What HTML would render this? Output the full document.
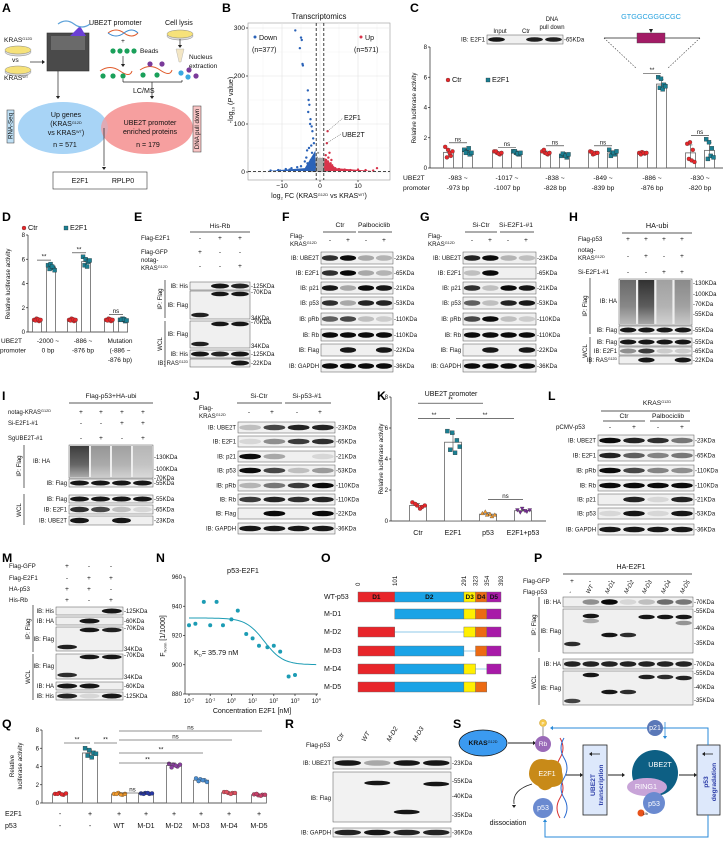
<!DOCTYPE html>
<html><head><meta charset="utf-8">
<style>
html,body{margin:0;padding:0;background:#fff;}
svg{display:block;font-family:"Liberation Sans",sans-serif;}
</style></head>
<body>
<svg id="fig" width="726" height="842" viewBox="0 0 726 842" xmlns="http://www.w3.org/2000/svg"></svg>
<script>
// ---------- chart data ----------
const cGroups=['-983 ~|-973 bp','-1017 ~|-1007 bp','-838 ~|-828 bp','-849 ~|-839 bp','-886 ~|-876 bp','-830 ~|-820 bp'];
const cCtrDots=[[1.4,1.2,0.8,0.7,1.0,1.1],[1.1,1.0,0.9,1.1,0.95,1.0],[1.1,1.0,0.9,1.2,0.95,1.0],[1.1,0.9,1.0,1.05,0.95,1.0],[1.0,1.05,0.95,0.9,1.0,1.0],[1.6,1.7,1.2,0.6,0.5,0.4]];
const cE2f1Dots=[[1.2,1.1,0.9,1.0,1.3,1.0],[1.1,1.0,0.9,1.1,0.95,1.0],[0.8,0.9,0.7,0.95,0.8,0.9],[1.2,1.0,0.9,0.8,1.0,1.1],[6.0,5.9,5.5,5.3,5.2,5.4],[1.9,1.7,1.3,0.6,0.8,0.7]];
const cSig=['ns','ns','ns','ns','**','ns'];
const lucTicks=[0,2,4,6,8];
const dGroups=['-2000 ~|0 bp','-886 ~|-876 bp','Mutation|(-886 ~|-876 bp)'];
const dCtrDots=[[1.0,1.1,0.9,0.95,1.05,1.0],[1.0,1.1,0.9,0.95,1.05,1.0],[1.0,1.1,0.9,0.95,1.05,1.0]];
const dE2f1Dots=[[5.5,5.6,5.3,5.2,5.4,5.1],[6.2,6.0,5.8,5.5,5.4,5.9],[1.0,1.1,0.9,1.0,1.05,0.95]];
const dSig=['**','**','ns'];
const kCats=['Ctr','E2F1','p53','E2F1+p53'];
const kDots=[[1.2,1.0,0.9,1.1,0.8,1.0],[5.8,5.7,5.2,4.6,4.4,4.8],[0.5,0.4,0.3,0.6,0.45,0.4],[0.7,0.8,0.6,0.55,0.65,0.7]];
const qE2f1=['-','+','+','+','+','+','+','+'];
const qP53=['-','-','WT','M-D1','M-D2','M-D3','M-D4','M-D5'];
const qDots=[[1.0,1.1,0.9,1.0,0.95,1.05],[6.0,5.8,5.5,5.2,5.0,5.4],[1.0,1.1,0.9,1.0,0.95,1.0],[1.05,1.1,1.0,1.0,1.1,1.05],[4.3,4.2,4.0,3.9,4.1,4.2],[2.7,2.6,2.5,2.4,2.5,2.3],[1.2,1.1,1.1,1.2,1.0,1.1],[0.95,0.85,0.9,1.0,0.8,0.9]];
const nConc=[0.01,0.02,0.05,0.1,0.2,0.4,1,2,5,10,20,50,100,200,500,1000];
const nFnorm=[927,928,943,927,943,927,931,937,921,918,913,912,913,909,892,893];
const nTicks=[880,900,920,940,960];
const nFitTop=932, nFitBottom=900, nKd=35.79;
const volDownX=[-6.5,-5.0,-4.8,-5.3,-4.6,-4.5,-3.2,-3.0,-2.8,-3.1,-2.5,-2.2,-2.6,-2.0,-1.8,-1.6,-2.3,-2.9,-3.4,-2.1,-1.5,-1.9,-2.4,-1.7,-1.4,-3.6,-4.0,-5.0,-6.0,-7.5,-9.0,-11.0,-13.0,-8.0,-10.5,-2.7,-1.3,-1.6,-2.0,-3.3];
const volDownY=[295,280,275,258,225,222,170,150,140,125,110,95,100,85,70,60,55,50,45,40,35,30,25,20,15,30,22,12,10,8,6,4,3,5,3,6,10,5,4,18];
const volUpX=[2.0,1.8,2.5,1.5,2.2,3.0,1.4,1.7,2.6,3.5,4.0,5.0,6.5,8.0,10.0,12.0,14.0,15.0,1.3,2.8,1.6,2.1,3.2];
const volUpY=[85,60,40,35,30,25,20,15,12,10,8,6,5,4,5,4,3,8,10,18,25,22,14];
const volNsX=[-1.0,-0.6,-0.3,0,0.3,0.6,0.9,-0.8,0.5,-0.2,0.2,-0.5,0.7];
const volNsY=[20,15,10,5,8,12,6,30,22,3,2,40,28];
const volTicksX=[-10,0,10];
const volTicksY=[0,100,200,300];

// ---------- helpers ----------
const NS='http://www.w3.org/2000/svg';
const svg=document.getElementById('fig');
function el(tag,a,name,parent){
  const e=document.createElementNS(NS,tag);
  for(const k in a) e.setAttribute(k,a[k]);
  
  
  (parent||svg).appendChild(e);
  return e;
}
function T(x,y,s,name,o){
  o=o||{};
  const a={x:x,y:y,'font-size':((o.fs||6)*1.12).toFixed(2),'text-anchor':o.a||'start',fill:o.fill||'#111','font-weight':o.fw||'normal','font-family':'Liberation Sans, sans-serif'};
  if(o.tr) a.transform=o.tr;
  if(o.fst) a['font-style']=o.fst;
  const e=el('text',a,name,o.p);
  if(o.html) e.innerHTML=s; else e.textContent=s;
  return e;
}
function L(x1,y1,x2,y2,name,st,sw,dash){
  const a={x1:x1,y1:y1,x2:x2,y2:y2,stroke:st||'#222','stroke-width':sw||0.7};
  if(dash) a['stroke-dasharray']=dash;
  return el('line',a,name);
}
function R(x,y,w,h,name,fill,st,sw){
  return el('rect',{x:x,y:y,width:w,height:h,fill:fill||'none',stroke:st||'none','stroke-width':sw||0.6},name);
}
function P(d,name,fill,st,sw){return el('path',{d:d,fill:fill||'none',stroke:st||'none','stroke-width':sw||0.8},name);}
function arrowHead(x,y,dir,name,col){
  col=col||'#222';const s=3;let d;
  if(dir==='r') d=`M${x},${y} L${x-s},${y-s*0.7} L${x-s},${y+s*0.7}Z`;
  if(dir==='l') d=`M${x},${y} L${x+s},${y-s*0.7} L${x+s},${y+s*0.7}Z`;
  if(dir==='d') d=`M${x},${y} L${x-s*0.7},${y-s} L${x+s*0.7},${y-s}Z`;
  if(dir==='u') d=`M${x},${y} L${x-s*0.7},${y+s} L${x+s*0.7},${y+s}Z`;
  return P(d,name,col);
}
function panel(ch,x,y){T(x,y,ch,'panel-label-'+ch.toLowerCase(),{fs:11,fw:'bold',fill:'#000'});}
const KR='KRAS<tspan font-size="3.8" dy="-2">G12D</tspan>';
function blot(x,y,w,h,bands,lab,kda,name,opt){
  opt=opt||{};
  R(x,y,w,h,name,opt.bg||'#f0f0f0','#555',0.5);
  const n=bands.length,lw=w/n;
  bands.forEach((v,i)=>{
    if(v>0){
      const b=el('ellipse',{cx:x+lw*(i+0.5),cy:y+h*(opt.yf||0.5),rx:lw*0.45,ry:Math.min(h*0.32,2.8),fill:'#0a0a0a','fill-opacity':Math.min(1,v*1.05)},'band');
    }
  });
  if(lab) T(x-2,y+h/2+2,lab,name+'-label',{fs:5.3,a:'end',html:true});
  if(kda) T(x+w+1,y+h/2+2,'-'+kda,name+'-kda',{fs:5.3});
}
function multiBand(x,y,w,n,list,name){
  const lw=w/n;
  list.forEach(b=>{
    el('ellipse',{cx:x+lw*(b[0]+0.5),cy:y+b[1],rx:lw*0.44,ry:2.3,fill:'#0a0a0a','fill-opacity':b[2]},name);
  });
}
function signs(xs,y,arr,name){arr.forEach((s,i)=>T(xs[i],y,s,name,{fs:6,a:'middle'}));}
function vlabel(x,yc,s,name){T(x,yc,s,name,{fs:5.5,a:'middle',tr:`rotate(-90 ${x} ${yc})`});}
function mean(a){return a.reduce((s,v)=>s+v,0)/a.length;}
function sd(a){const m=mean(a);return Math.sqrt(a.reduce((s,v)=>s+(v-m)*(v-m),0)/a.length);}
function marker(shape,x,y,col,name,r){
  r=r||2;
  if(shape==='c') return el('circle',{cx:x,cy:y,r:r,fill:col,stroke:'#333','stroke-width':0.3},name);
  if(shape==='s') return el('rect',{x:x-r,y:y-r,width:2*r,height:2*r,fill:col,stroke:'#222','stroke-width':0.3},name);
  if(shape==='t') return el('path',{d:`M${x},${y-r} L${x+r},${y+r*0.8} L${x-r},${y+r*0.8}Z`,fill:col,stroke:'#333','stroke-width':0.3},name);
  if(shape==='v') return el('path',{d:`M${x},${y+r} L${x+r},${y-r*0.8} L${x-r},${y-r*0.8}Z`,fill:col,stroke:'#333','stroke-width':0.3},name);
}
function barWithDots(cx,bw,dots,yOf,col,shape,name){
  const m=mean(dots),s=sd(dots),y0=yOf(0),ym=yOf(m);
  R(cx-bw/2,ym,bw,y0-ym,name,'#fff','#666',0.8);
  L(cx,yOf(m+s),cx,yOf(Math.max(0,m-s)),name+'-err','#444',0.6);
  L(cx-2,yOf(m+s),cx+2,yOf(m+s),name+'-err-cap','#444',0.6);
  dots.forEach((v,i)=>marker(shape,cx+((i%3)-1)*bw*0.28+(i>2?bw*0.12:-bw*0.05),yOf(v),col,name+'-dot'));
}
function yAxis(x,yOf,ticks,name,fmt){
  L(x,yOf(ticks[0]),x,yOf(ticks[ticks.length-1]),name,'#222',0.7);
  ticks.forEach(t=>{L(x-2,yOf(t),x,yOf(t),name+'-tick');T(x-3,yOf(t)+2,fmt?fmt(t):String(t),name+'-ticklabel',{fs:5.5,a:'end'});});
}
function sigLine(x1,x2,y,s,name){L(x1,y,x2,y,name,'#222',0.6);T((x1+x2)/2,y-1.5,s,name+'-text',{fs:5.5,a:'middle'});}

// ================= PANEL A =================
panel('A',2,12);
function dish(cx,cy,name){el('ellipse',{cx:cx,cy:cy+2,rx:13,ry:4,fill:'#ddd',stroke:'#888','stroke-width':0.5},name);el('ellipse',{cx:cx,cy:cy,rx:13,ry:4,fill:'#f6e27a',stroke:'#888','stroke-width':0.5},name+'-medium');}
T(4,42,KR,'kras-g12d-text',{fs:6,html:true});
dish(18,50,'dish-g12d');
T(12,62,'vs','vs-text',{fs:6});
dish(18,70,'dish-wt');
T(4,80,'KRAS<tspan font-size="3.8" dy="-2">WT</tspan>','kras-wt-text',{fs:6,html:true});
L(30,62,42,62,'arrow-to-sequencer');arrowHead(45,62,'r','arrow-head');
R(47,33,42,38,'sequencer','#4a4a4a','#333');R(51,36,34,14,'sequencer-screen','#6a6a6a');
P('M70,36 L80,26 L86,36Z','sequencer-display','#6b3fd6');
P('M58,24 Q66,18 74,24 T90,24','dna-strand-icon','none','#5fa3d9',1.2);
L(58,71,58,96,'arrow-rnaseq');arrowHead(58,99,'d','arrow-head');
T(89,25,'UBE2T promoter','ube2t-promoter-text',{fs:6.3});
P('M108,33 Q116,27 124,33 T138,33','promoter-dna','none','#e05a2a',1);P('M108,33 Q116,39 124,33 T138,33','promoter-dna-2','none','#3a8ad0',1);
T(123,43,'+','plus-text',{fs:6,a:'middle'});
[113,120,127,134].forEach((x,i)=>el('circle',{cx:x,cy:51,r:2.6,fill:'#1aa05a'},'bead'));
T(140,53,'Beads','beads-text',{fs:5.8});
L(123,56,123,64,'arrow-beads');arrowHead(123,67,'d','arrow-head');
P('M100,71 Q110,64 120,71 T132,71','dna-bead-complex','none','#e05a2a',1);[103,113,123].forEach(x=>el('circle',{cx:x,cy:76,r:2.6,fill:'#1aa05a'},'bead'));
P('M140,70 Q150,63 160,70 T172,70','dna-bead-protein','none','#e05a2a',1);[143,157].forEach(x=>el('circle',{cx:x,cy:75,r:2.6,fill:'#1aa05a'},'bead'));[150,162].forEach(x=>el('circle',{cx:x,cy:64,r:2.6,fill:'#7a3a9a'},'protein-ball'));
T(165,25,'Cell lysis','cell-lysis-text',{fs:6.3});
dish(180,34,'dish-lysis');
L(180,39,180,45,'arrow-lysis');arrowHead(180,48,'d','arrow-head');
P('M176,49 L184,49 L181,62 L179,62Z','tube','#f3e6c4','#aaa',0.4);
T(189,59,'Nucleus','nucleus-text',{fs:5.8});T(189,68,'extraction','extraction-text',{fs:5.8});
[[181,73,'#3aa8e0'],[189,70,'#7a3a9a'],[188,77,'#3aa8e0'],[196,76,'#7a3a9a']].forEach(b=>el('circle',{cx:b[0],cy:b[1],r:2.6,fill:b[2]},'nuclear-protein'));
L(123,82,182,82,'bracket-line');L(123,79,123,82,'bracket-l');L(182,80,182,82,'bracket-r');
L(152,82,152,96,'arrow-lcms');arrowHead(152,99,'d','arrow-head');
T(133,93,'LC/MS','lcms-text',{fs:6.3});
el('ellipse',{cx:63,cy:128,rx:45,ry:26,fill:'#a8d4f6'},'venn-rnaseq');
el('ellipse',{cx:147,cy:128,rx:46,ry:26,fill:'#f59a9a','fill-opacity':0.95},'venn-pulldown');
el('ellipse',{cx:63,cy:128,rx:45,ry:26,fill:'#a8d4f6','fill-opacity':0.25},'venn-overlap');
T(66,117,'Up genes','up-genes-text',{fs:6.3,a:'middle'});
T(66,126,'(KRAS<tspan font-size="3.8" dy="-2">G12D</tspan>','up-genes-sub',{fs:6.3,a:'middle',html:true});
T(66,135,'vs KRAS<tspan font-size="3.8" dy="-2">WT</tspan><tspan dy="2">)</tspan>','up-genes-sub2',{fs:6.3,a:'middle',html:true});
T(65,147,'n = 571','n-571-text',{fs:6.3,a:'middle'});
T(150,125,'UBE2T promoter','enriched-text',{fs:6.3,a:'middle'});
T(150,134,'enriched proteins','enriched-text-2',{fs:6.3,a:'middle'});
T(148,147,'n = 179','n-179-text',{fs:6.3,a:'middle'});
R(7,110,7,33,'rna-seq-box','#bfe0f5','#333',0.5);vlabel(12.5,126,'RNA-Seq','rna-seq-label');
R(193,106,8,46,'dna-pull-down-box','#f9c4c4','#333',0.5);vlabel(199,129,'DNA pull down','dna-pull-down-label');
L(104,128,104,166,'arrow-overlap');arrowHead(104,170,'d','arrow-head');
R(53,172,94,17,'overlap-genes-box','#fff','#333',0.6);
T(80,183,'E2F1','e2f1-gene',{fs:6.3,a:'middle'});T(123,183,'RPLP0','rplp0-gene',{fs:6.3,a:'middle'});

// ================= PANEL B (volcano) =================
panel('B',222,12);
const bx=v=>320+v*3.8, by=v=>172-v*0.48;
R(248,23,142,157,'volcano-plot-area','#fff','#999',0.6);
[-15,-5,5,15].forEach(v=>L(bx(v),23,bx(v),180,'grid-minor','#eee',0.4));
volTicksX.forEach(v=>L(bx(v),23,bx(v),180,'grid-x','#e2e2e2',0.6));
[50,150,250].forEach(v=>L(248,by(v),390,by(v),'grid-minor','#eee',0.4));
volTicksY.forEach(v=>L(248,by(v),390,by(v),'grid-y','#e2e2e2',0.6));
volNsX.forEach((v,i)=>el('circle',{cx:bx(v),cy:by(volNsY[i]),r:1.1,fill:'#999'},'point-ns'));
P(`M${bx(-3)},${by(0)} Q${bx(0)},${by(60)} ${bx(3)},${by(0)}Z`,'ns-cloud','#aaa');
volDownX.forEach((v,i)=>el('circle',{cx:bx(v),cy:by(volDownY[i]),r:1.2,fill:'#2a62b8'},'point-down'));
volUpX.forEach((v,i)=>el('circle',{cx:bx(v),cy:by(volUpY[i]),r:1.2,fill:'#d8334a'},'point-up'));
P(`M${bx(-14)},${by(2)} L${bx(-1.2)},${by(2)} L${bx(-1.2)},${by(45)} L${bx(-4)},${by(8)}Z`,'down-cloud','#2a62b8');
P(`M${bx(1.2)},${by(2)} L${bx(14)},${by(2)} L${bx(4)},${by(8)} L${bx(1.2)},${by(30)}Z`,'up-cloud','#d8334a');
L(bx(-1),23,bx(-1),180,'threshold-neg','#111',0.8,'3,2');L(bx(1),23,bx(1),180,'threshold-pos','#111',0.8,'3,2');
L(248,by(1.3),390,by(1.3),'threshold-p','#111',0.8,'3,2');
volTicksX.forEach(v=>{L(bx(v),180,bx(v),182,'x-tick');T(bx(v),188,v===-10?'−10':String(v),'x-tick-label',{fs:6,a:'middle'});});
volTicksY.forEach(v=>{L(246,by(v),248,by(v),'y-tick');T(245,by(v)+2,String(v),'y-tick-label',{fs:6,a:'end'});});
T(319,19,'Transcriptomics','volcano-title',{fs:7,a:'middle'});
T(319,198,'log<tspan font-size="4" dy="1.5">2</tspan><tspan dy="-1.5"> FC (KRAS</tspan><tspan font-size="4" dy="-2">G12D</tspan><tspan dy="2"> vs KRAS</tspan><tspan font-size="4" dy="-2">WT</tspan><tspan dy="2">)</tspan>','volcano-x-title',{fs:6.3,a:'middle',html:true});
T(233,100,'-log<tspan font-size="4" dy="1.5">10</tspan><tspan dy="-1.5"> (</tspan><tspan font-style="italic">P</tspan> value)','volcano-y-title',{fs:6.3,a:'middle',html:true,tr:'rotate(-90 233 100)'});
el('circle',{cx:255,cy:37,r:1.5,fill:'#2a62b8'},'legend-down-dot');T(259,40,'Down','legend-down',{fs:6.3});T(252,52,'(n=377)','legend-down-n',{fs:6.3});
el('circle',{cx:361,cy:37,r:1.5,fill:'#d8334a'},'legend-up-dot');T(365,40,'Up','legend-up',{fs:6.3});T(354,52,'(n=571)','legend-up-n',{fs:6.3});
L(bx(2),by(85),343,118,'e2f1-leader','#333',0.5,'1,1');T(344,120,'E2F1','e2f1-annotation',{fs:6.3});
L(bx(1.8),by(60),341,134,'ube2t-leader','#333',0.5,'1,1');T(342,137,'UBE2T','ube2t-annotation',{fs:6.3});

// ================= PANEL C =================
panel('C',410,12);
const cy=v=>168-v*(121/8);
yAxis(430,cy,lucTicks,'c-y-axis');
L(430,168,723,168,'c-x-axis');
vlabel(416,108,'Relative luciferase activity','c-y-title');
const cCenters=[458,507,555,603,652,700];
cGroups.forEach((g,i)=>{
  barWithDots(cCenters[i]-9.5,10,cCtrDots[i],cy,'#e8262a','c','c-bar-ctr');
  barWithDots(cCenters[i]+9.5,10,cE2f1Dots[i],cy,'#1b7f92','s','c-bar-e2f1');
  const top=Math.max(...cCtrDots[i],...cE2f1Dots[i]);
  sigLine(cCenters[i]-9,cCenters[i]+9,cy(top)-4,cSig[i],'c-sig');
  const p=g.split('|');T(cCenters[i],180,p[0],'c-x-label',{fs:6,a:'middle'});T(cCenters[i],190,p[1],'c-x-label-2',{fs:6,a:'middle'});
});
T(403,180,'UBE2T','c-x-group-title',{fs:6});T(403,190,'promoter','c-x-group-title-2',{fs:6});
marker('c',448,80,'#e8262a','c-legend-ctr-marker');T(452,82,'Ctr','c-legend-ctr',{fs:6.5});
marker('s',488,80,'#1b7f92','c-legend-e2f1-marker');T(492,82,'E2F1','c-legend-e2f1',{fs:6.5});
R(487,35,76,9,'c-inset-blot','#f0f0f0','#555',0.5);
multiBand(487,35,76,4,[[0,4.5,0.95],[2,4.5,0.9],[3,4.5,0.9]],'c-inset-band');
T(485,41.5,'IB: E2F1','c-inset-label',{fs:5.5,a:'end'});T(564,41.5,'-65KDa','c-inset-kda',{fs:5.3});
T(500,33,'Input','c-inset-input',{fs:5.3,a:'middle'});T(526,33,'Ctr','c-inset-ctr',{fs:5.3,a:'middle'});
T(552,21,'DNA','c-inset-dna',{fs:5.3,a:'middle'});T(552,29,'pull down','c-inset-pulldown',{fs:5.3,a:'middle'});
T(651,19,'GTGGCGGGCGC','binding-sequence',{fs:6.5,a:'middle',fill:'#29a3e0'});
L(604,38,700,38,'promoter-line','#222',0.7);R(637,33,28,10,'binding-site-box','#a31c66','#444',0.4);
P('M651,33 L649,29 L653,29Z','binding-site-marker','#222');
L(604,38,636,68,'zoom-line-l','#333',0.6,'1.5,1.5');L(700,38,668,68,'zoom-line-r','#333',0.6,'1.5,1.5');

// ================= PANEL D =================
panel('D',2,221);
const dy=v=>332-v*(97/8);
yAxis(28,dy,lucTicks,'d-y-axis');L(28,332,128,332,'d-x-axis');
vlabel(10,284,'Relative luciferase activity','d-y-title');
const dC=[[37,51],[72,86],[109,123]];
dGroups.forEach((g,i)=>{
  barWithDots(dC[i][0],9,dCtrDots[i],dy,'#e8262a','c','d-bar-ctr');
  barWithDots(dC[i][1],9,dE2f1Dots[i],dy,'#1b7f92','s','d-bar-e2f1');
  const top=Math.max(...dE2f1Dots[i]);sigLine(dC[i][0],dC[i][1],dy(top)-4,dSig[i],'d-sig');
  const p=g.split('|');p.forEach((s,j)=>T((dC[i][0]+dC[i][1])/2+4,343+j*9.5,s,'d-x-label',{fs:5.8,a:'middle'}));
});
T(1,343,'UBE2T','d-x-group-title',{fs:5.8});T(0,352.5,'promoter','d-x-group-title-2',{fs:5.8});
marker('c',24,228,'#e8262a','d-legend-ctr-marker');T(28,230,'Ctr','d-legend-ctr',{fs:6.5});
marker('s',66,228,'#1b7f92','d-legend-e2f1-marker');T(70,230,'E2F1','d-legend-e2f1',{fs:6.5});

// ================= PANEL E =================
panel('E',134,221);
T(220,228,'His-Rb','e-header',{fs:6,a:'middle'});L(190,232,250,232,'e-header-line');
const eX=[200,220,240];
T(141,240,'Flag-E2F1','e-row-flag-e2f1',{fs:5.5});signs(eX,240,['-','+','+'],'e-sign');
T(141,254,'Flag-GFP','e-row-flag-gfp',{fs:5.5});signs(eX,254,['+','-','-'],'e-sign');
T(141,262,'notag-','e-row-notag',{fs:5.5});T(141,270,KR,'e-row-kras',{fs:5.5,html:true});signs(eX,268,['-','-','+'],'e-sign');
blot(190,282,60,8,[0,0.9,0.85],'IB: His','125KDa','e-ip-his');
R(190,291,60,28,'e-ip-flag','#f0f0f0','#555',0.5);multiBand(190,291,60,3,[[1,3,0.95],[2,3,0.95],[0,24,0.9]],'e-ip-flag-band');
T(188,307,'IB: Flag','e-ip-flag-label',{fs:5.3,a:'end'});T(251,294,'-70KDa','e-kda',{fs:5.3});T(251,320,'34KDa','e-kda',{fs:5.3});
R(190,321,60,27,'e-wcl-flag','#f0f0f0','#555',0.5);multiBand(190,321,60,3,[[1,3,0.95],[2,3,0.95],[0,23,0.9]],'e-wcl-flag-band');
T(188,336,'IB: Flag','e-wcl-flag-label',{fs:5.3,a:'end'});T(251,324,'-70KDa','e-kda',{fs:5.3});T(251,348,'34KDa','e-kda',{fs:5.3});
blot(190,350,60,8,[0.9,0.85,0.9],'IB: His','125KDa','e-wcl-his');
blot(190,359,60,8,[0,0,0.9],'IB: RAS<tspan font-size="3.5" dy="-2">G12D</tspan>','22KDa','e-wcl-ras');
L(165,280,165,318,'e-ip-bracket');vlabel(162,299,'IP: Flag','e-ip-label');
L(165,321,165,367,'e-wcl-bracket');vlabel(162,344,'WCL','e-wcl-label');

// ================= PANEL F =================
panel('F',282,221);
const rowsY=[252,267,282,297,313,329,344,360];
const fLabels=['IB: UBE2T','IB: E2F1','IB: p21','IB: p53','IB: pRb','IB: Rb','IB: Flag','IB: GAPDH'];
const fKda=['23KDa','65KDa','21KDa','53KDa','110KDa','110KDa','22KDa','36KDa'];
const fBands=[[0.8,0.95,0.3,0.25],[0.8,1,0.3,0.25],[0.9,0.3,0.95,0.9],[0.8,0.3,0.85,0.85],[0.6,0.7,0.2,0.15],[0.95,0.95,0.95,0.95],[0,0.9,0,0.9],[0.95,0.95,0.95,0.95]];
fBands.forEach((b,i)=>blot(321,rowsY[i],72,12,b,fLabels[i],fKda[i],'f-blot-'+i));
T(340,227,'Ctr','f-header-ctr',{fs:6,a:'middle'});T(374,227,'Palbociclib','f-header-palbo',{fs:6,a:'middle'});
L(323,232,356,232,'f-header-line');L(358,232,392,232,'f-header-line');
T(290,238,'Flag-','f-row-flag',{fs:5.5});T(290,246,KR,'f-row-kras',{fs:5.5,html:true});signs([330,348,366,384],242,['-','+','-','+'],'f-sign');

// ================= PANEL G =================
panel('G',420,221);
const gBands=[[0.85,0.95,0.25,0.2],[0.2,1,0,0],[0.8,0.2,0.95,0.9],[0.6,0.2,0.85,0.9],[0.7,0.95,0.2,0.15],[0.95,0.95,0.95,0.95],[0,0.9,0,0.9],[0.95,0.95,0.95,0.95]];
gBands.forEach((b,i)=>blot(463,rowsY[i],73,12,b,fLabels[i],fKda[i],'g-blot-'+i));
T(481,227,'Si-Ctr','g-header-sictr',{fs:6,a:'middle'});T(516,227,'Si-E2F1-#1','g-header-sie2f1',{fs:6,a:'middle'});
L(465,232,497,232,'g-header-line');L(500,232,534,232,'g-header-line');
T(428,238,'Flag-','g-row-flag',{fs:5.5});T(428,246,KR,'g-row-kras',{fs:5.5,html:true});signs([472,490,508,526],242,['-','+','-','+'],'g-sign');

// ================= PANEL H =================
panel('H',569,221);
T(657,228,'HA-ubi','h-header',{fs:6.5,a:'middle'});L(622,233,692,233,'h-header-line');
const hX=[628,646,664,682];
T(578,241,'Flag-p53','h-row-flag-p53',{fs:5.5});signs(hX,241,['+','+','+','+'],'h-sign');
T(578,252,'notag-','h-row-notag',{fs:5.5});T(578,260,KR,'h-row-kras',{fs:5.5,html:true});signs(hX,258,['-','+','-','+'],'h-sign');
T(578,274,'Si-E2F1-#1','h-row-sie2f1',{fs:5.5});signs(hX,274,['-','-','+','+'],'h-sign');
const hSmear=[0.6,0.85,0.35,0.45];
R(619,279,73,46,'h-ip-ha','#eee','#555',0.5);
hSmear.forEach((v,i)=>{
  const g=el('rect',{x:620+i*18.2,y:280,width:16,height:44,fill:'url(#smearGrad)','fill-opacity':v},'h-ubi-smear');
});
T(617,303,'IB: HA','h-ip-ha-label',{fs:5.3,a:'end'});
[['-130KDa',285],['-100KDa',296],['-70KDa',306],['-55KDa',316]].forEach(k=>T(693,k[1],k[0],'h-kda',{fs:5.3}));
blot(619,326,73,8,[0.9,0.9,0.9,0.9],'IB: Flag','55KDa','h-ip-flag');
blot(619,338,73,8,[0.9,0.9,0.9,0.9],'IB: Flag','55KDa','h-wcl-flag');
blot(619,347,73,8,[0.4,0.75,0.15,0.15],'IB: E2F1','65KDa','h-wcl-e2f1');
blot(619,356,73,8,[0,0.9,0,0.9],'IB: RAS<tspan font-size="3.5" dy="-2">G12D</tspan>','22KDa','h-wcl-ras');
L(590,278,590,334,'h-ip-bracket');vlabel(587,306,'IP: Flag','h-ip-label');
L(590,337,590,364,'h-wcl-bracket');vlabel(587,351,'WCL','h-wcl-label');

// smear gradient
const defs=el('defs',{},'defs');
const lg=el('linearGradient',{id:'smearGrad',x1:0,y1:0,x2:0,y2:1},'smear-gradient',defs);
el('stop',{offset:'0','stop-color':'#111'},'grad-stop',lg);
el('stop',{offset:'0.6','stop-color':'#444'},'grad-stop',lg);
el('stop',{offset:'1','stop-color':'#999'},'grad-stop',lg);

// ================= PANEL I =================
panel('I',2,400);
T(111,398,'Flag-p53+HA-ubi','i-header',{fs:6,a:'middle'});L(69,403,153,403,'i-header-line');
const iX=[81,101,122,143];
T(8,414,'notag-'+KR,'i-row-kras',{fs:5.3,html:true});signs(iX,414,['+','+','+','+'],'i-sign');
T(8,425,'Si-E2F1-#1','i-row-sie2f1',{fs:5.3});signs(iX,425,['-','-','+','+'],'i-sign');
T(8,440,'SgUBE2T-#1','i-row-sgube2t',{fs:5.3});signs(iX,440,['-','+','-','+'],'i-sign');
R(69,445,84,33,'i-ip-ha','#eee','#555',0.5);
[0.8,0.4,0.35,0.25].forEach((v,i)=>el('rect',{x:70+i*21,y:446,width:19,height:31,fill:'url(#smearGrad)','fill-opacity':v},'i-ubi-smear'));
T(33,463,'IB: HA','i-ip-ha-label',{fs:5.3});
[['-130KDa',459],['-100KDa',471],['-70KDa',480]].forEach(k=>T(154,k[1],k[0],'i-kda',{fs:5.3}));
blot(69,479,84,8,[0.9,0.9,0.9,0.9],'IB: Flag','55KDa','i-ip-flag');
blot(69,495,84,8,[0.9,0.9,0.9,0.9],'IB: Flag','55KDa','i-wcl-flag');
blot(69,505,84,9,[0.8,0.7,0.2,0.1],'IB: E2F1','65KDa','i-wcl-e2f1');
blot(69,516,84,9,[0.9,0,0.9,0],'IB: UBE2T','23KDa','i-wcl-ube2t');
L(24,445,24,488,'i-ip-bracket');vlabel(21,466,'IP: Flag','i-ip-label');
L(24,494,24,525,'i-wcl-bracket');vlabel(21,510,'WCL','i-wcl-label');

// ================= PANEL J =================
panel('J',193,400);
T(259,398,'Si-Ctr','j-header-sictr',{fs:6,a:'middle'});T(307,398,'Si-p53-#1','j-header-sip53',{fs:6,a:'middle'});
L(237,403,282,403,'j-header-line');L(285,403,331,403,'j-header-line');
T(199,410,'Flag-','j-row-flag',{fs:5.5});T(199,418,KR,'j-row-kras',{fs:5.5,html:true});signs([249,272,297,320],414,['-','+','-','+'],'j-sign');
const jY=[422,436,451,465,480,494,508,523];
const jBands=[[0.2,0.7,0.85,0.85],[0.1,0.4,0.75,0.8],[0.95,0.3,0,0.1],[0.95,0.7,0.2,0.35],[0.25,0.5,0.75,1],[0.75,0.85,0.8,0.85],[0,1,0,1],[0.9,0.9,0.9,0.9]];
jBands.forEach((b,i)=>blot(238,jY[i],97,11,b,fLabels[i],fKda[i],'j-blot-'+i));

// ================= PANEL K =================
panel('K',377,400);
T(451,396,'UBE2T promoter','k-title',{fs:6.3,a:'middle'});
const ky=v=>521-v*(124/8);
yAxis(391,ky,lucTicks,'k-y-axis');L(391,521,546,521,'k-x-axis');
vlabel(383,459,'Relative luciferase activity','k-y-title');
const kC=[418,453,488,523],kCol=['#e8262a','#1b7f92','#f39a2b','#7a2a9a'],kShape=['c','s','t','v'];
kCats.forEach((c,i)=>{barWithDots(kC[i],17,kDots[i],ky,kCol[i],kShape[i],'k-bar-'+c.toLowerCase());T(kC[i],535,c,'k-x-label',{fs:6.3,a:'middle'});});
sigLine(418,483,ky(7.6),'**','k-sig-ctr-p53');sigLine(418,450,ky(6.6),'**','k-sig-ctr-e2f1');sigLine(456,514,ky(6.6),'**','k-sig-e2f1-combo');
sigLine(488,523,ky(1.4),'ns','k-sig-p53-combo');

// ================= PANEL L =================
panel('L',548,400);
T(657,405,KR,'l-header',{fs:6,a:'middle',html:true});L(601,411,690,411,'l-header-line');
T(624,418,'Ctr','l-ctr',{fs:6,a:'middle'});T(668,418,'Palbociclib','l-palbo',{fs:6,a:'middle'});
L(603,421,645,421,'l-sub-line');L(650,421,690,421,'l-sub-line');
T(556,429,'pCMV-p53','l-row-pcmv',{fs:5.5});signs([610,634,658,682],429,['-','+','-','+'],'l-sign');
const lY=[435,450,465,480,494,508,524];
const lLab=['IB: UBE2T','IB: E2F1','IB: pRb','IB: Rb','IB: p21','IB: p53','IB: GAPDH'];
const lKda=['23KDa','65KDa','110KDa','110KDa','21KDa','53KDa','36KDa'];
const lBands=[[0.95,0.85,0.8,0.5],[0.85,0.6,0.45,0.5],[0.95,0.7,0.45,0.4],[0.95,0.95,0.95,0.95],[0,0.85,0.1,0.85],[0.1,0.9,0.1,0.9],[0.9,0.9,0.9,0.9]];
lBands.forEach((b,i)=>blot(598,lY[i],96,11,b,lLab[i],lKda[i],'l-blot-'+i));

// ================= PANEL M =================
panel('M',2,562);
const mX=[67,89,111];
T(9,568,'Flag-GFP','m-row-gfp',{fs:5.5});signs(mX,568,['+','-','-'],'m-sign');
T(9,580,'Flag-E2F1','m-row-e2f1',{fs:5.5});signs(mX,580,['-','+','+'],'m-sign');
T(9,591,'HA-p53','m-row-ha-p53',{fs:5.5});signs(mX,591,['+','+','-'],'m-sign');
T(9,602,'His-Rb','m-row-his-rb',{fs:5.5});signs(mX,602,['+','-','+'],'m-sign');
blot(56,607,67,8,[0,0,0.9],'IB: His','125KDa','m-ip-his');
blot(56,617,67,8,[0,0.9,0],'IB: HA','60KDa','m-ip-ha');
R(56,627,67,24,'m-ip-flag','#f0f0f0','#555',0.5);multiBand(56,627,67,3,[[1,3,0.95],[2,3,0.9],[0,20,0.9]],'m-ip-flag-band');
T(54,641,'IB: Flag','m-ip-flag-label',{fs:5.3,a:'end'});T(124,630,'-70KDa','m-kda',{fs:5.3});T(124,651,'34KDa','m-kda',{fs:5.3});
R(56,654,67,25,'m-wcl-flag','#f0f0f0','#555',0.5);multiBand(56,654,67,3,[[1,3,0.95],[2,3,0.95],[0,21,0.85]],'m-wcl-flag-band');
T(54,668,'IB: Flag','m-wcl-flag-label',{fs:5.3,a:'end'});T(124,657,'-70KDa','m-kda',{fs:5.3});T(124,679,'34KDa','m-kda',{fs:5.3});
blot(56,682,67,8,[0.9,0.9,0],'IB: HA','60KDa','m-wcl-ha');
blot(56,692,67,8,[0.85,0.1,0.9],'IB: His','125KDa','m-wcl-his');
L(33,605,33,652,'m-ip-bracket');vlabel(30,629,'IP: Flag','m-ip-label');
L(33,654,33,700,'m-wcl-bracket');vlabel(30,677,'WCL','m-wcl-label');

// ================= PANEL N =================
panel('N',156,562);
T(243,573,'p53-E2F1','n-title',{fs:6.5,a:'middle'});
const nx=c=>189+(Math.log10(c)+2)*21.2, ny=v=>694-(v-880)*(117/80);
yAxis(185,ny,nTicks,'n-y-axis');L(185,694,318,694,'n-x-axis');
[-2,-1,0,1,2,3,4].forEach(p=>{L(189+(p+2)*21.2,694,189+(p+2)*21.2,696,'n-x-tick');T(189+(p+2)*21.2,703,'10<tspan font-size="3.8" dy="-2.5">'+p+'</tspan>','n-x-ticklabel',{fs:5.5,a:'middle',html:true});});
let nd='';for(let k=0;k<=60;k++){const lc=-2+k*0.1,c=Math.pow(10,lc);const f=nFitBottom+(nFitTop-nFitBottom)*nKd/(nKd+c);nd+=(k?'L':'M')+nx(c).toFixed(1)+','+ny(f).toFixed(1);}
P(nd,'n-fit-curve','none','#1c9cb4',1);
nConc.forEach((c,i)=>el('circle',{cx:nx(c),cy:ny(nFnorm[i]),r:2,fill:'#1c9cb4'},'n-point'));
T(194,655,'K<tspan font-size="4" dy="1.5">D</tspan><tspan dy="-1.5">= 35.79 nM</tspan>','n-kd-text',{fs:6.5,html:true});
T(252,713,'Concentration E2F1 [nM]','n-x-title',{fs:6.3,a:'middle'});
T(165,636,'F<tspan font-size="4" dy="1.5">Norm</tspan><tspan dy="-1.5"> [1/1000]</tspan>','n-y-title',{fs:6.3,a:'middle',html:true,tr:'rotate(-90 165 636)'});

// ================= PANEL O =================
panel('O',321,562);
const oBounds=[0,101,291,323,354,393];
const ox=v=>358+v*(143/393);
const oCol=['#e8252a','#1aa3e6','#ffef00','#ec6a12','#a81aa8'];
const oNames=['D1','D2','D3','D4','D5'];
oBounds.forEach(b=>T(ox(b)+2,586,String(b),'o-boundary-label',{fs:5.5,tr:`rotate(-90 ${ox(b)+2} 586)`}));
const oRows=[['WT-p53',597,[]],['M-D1',614,[0]],['M-D2',632,[1]],['M-D3',651,[2]],['M-D4',669,[3]],['M-D5',687,[4]]];
oRows.forEach(r=>{
  T(324,r[1]+2,r[0],'o-row-label',{fs:6.3});
  const del=r[2][0];
  if(del!==undefined&&del>0&&del<4) L(ox(oBounds[del]),r[1],ox(oBounds[del+1]),r[1],'o-deletion-line','#6ab8e0',0.7);
  for(let d=0;d<5;d++){if(d===del)continue;R(ox(oBounds[d]),r[1]-5,ox(oBounds[d+1])-ox(oBounds[d]),10,'o-domain-'+oNames[d].toLowerCase(),oCol[d],'#666',0.4);
    if(r[0]==='WT-p53') T((ox(oBounds[d])+ox(oBounds[d+1]))/2,r[1]+2,oNames[d],'o-domain-label',{fs:5.8,a:'middle',fw:'bold',fill:'#111'});}
});

// ================= PANEL P =================
panel('P',534,562);
T(631,569,'HA-E2F1','p-header',{fs:6.3,a:'middle'});L(563,574,692,574,'p-header-line');
const pX=[572,590,609,628,646,665,684];
T(523,583,'Flag-GFP','p-row-gfp',{fs:5.5});signs(pX,583,['+','-','-','-','-','-','-'],'p-sign');
T(523,594,'Flag-p53','p-row-p53',{fs:5.5});
['-','WT','M-D1','M-D2','M-D3','M-D4','M-D5'].forEach((s,i)=>T(pX[i]-1,594,s,'p-lane-label',{fs:5.2,fst:'italic',tr:`rotate(-60 ${pX[i]-1} 594)`}));
blot(563,597,130,10,[0,0.4,1,0.1,0.2,0.55,0.5],'IB: HA','70KDa','p-ip-ha');
R(563,609,130,44,'p-ip-flag','#f0f0f0','#555',0.5);
multiBand(563,609,130,7,[[1,7,0.95],[4,8,0.95],[5,8,0.95],[6,8,0.95],[2,26,0.95],[3,26,0.85],[0,35,0.85],[6,14,0.4],[1,12,0.3]],'p-ip-flag-band');
T(561,633,'IB: Flag','p-ip-flag-label',{fs:5.3,a:'end'});
[['-55KDa',613],['-40KDa',630],['-35KDa',645]].forEach(k=>T(694,k[1],k[0],'p-kda',{fs:5.3}));
blot(563,659,130,10,[0.85,0.85,0.85,0.85,0.85,0.85,0.85],'IB: HA','70KDa','p-wcl-ha');
R(563,671,130,34,'p-wcl-flag','#f0f0f0','#555',0.5);
multiBand(563,671,130,7,[[1,4,0.95],[4,6,0.9],[5,6,0.85],[6,7,0.9],[2,21,0.95],[3,21,0.85],[0,30,0.75]],'p-wcl-flag-band');
T(561,690,'IB: Flag','p-wcl-flag-label',{fs:5.3,a:'end'});
[['-55KDa',675],['-40KDa',689],['-35KDa',702]].forEach(k=>T(694,k[1],k[0],'p-kda',{fs:5.3}));
L(539,597,539,652,'p-ip-bracket');vlabel(536,625,'IP: Flag','p-ip-label');
L(539,658,539,705,'p-wcl-bracket');vlabel(536,682,'WCL','p-wcl-label');

// ================= PANEL Q =================
panel('Q',2,728);
const qy=v=>803-v*(73/8);
yAxis(42,qy,lucTicks,'q-y-axis');L(42,803,266,803,'q-x-axis');
vlabel(14,766,'Relative','q-y-title');vlabel(22,766,'luciferase activity','q-y-title-2');
const qC=[60,90,119,146,174,201,229,259];
const qCol=['#e8262a','#1b7f92','#f39a2b','#2838a8','#8a3fa0','#4a8fd4','#e05060','#c8406a'];
qDots.forEach((d,i)=>barWithDots(qC[i],15,d,qy,qCol[i],i===1?'s':'c','q-bar-'+i));
T(5,816,'E2F1','q-row-e2f1',{fs:6.3});T(5,828,'p53','q-row-p53',{fs:6.3});
qE2f1.forEach((s,i)=>T(qC[i],816,s,'q-e2f1-sign',{fs:6.3,a:'middle'}));
qP53.forEach((s,i)=>T(qC[i],828,s,'q-p53-label',{fs:6.3,a:'middle'}));
sigLine(64,90,743,'**','q-sig-1');sigLine(94,117,743,'**','q-sig-2');
sigLine(119,262,731,'ns','q-sig-d5');sigLine(119,232,740,'ns','q-sig-d4');
sigLine(119,203,753,'**','q-sig-d3');sigLine(119,176,763,'**','q-sig-d2');sigLine(119,146,793,'ns','q-sig-d1');

// ================= PANEL R =================
panel('R',285,728);
T(306,747,'Flag-p53','r-row-flag-p53',{fs:5.5});
const rX=[343,368,393,419];
['Ctr','WT','M-D2','M-D3'].forEach((s,i)=>T(rX[i]-3,742,s,'r-lane-label',{fs:5.8,fst:'italic',tr:`rotate(-60 ${rX[i]-3} 742)`}));
blot(333,757,118,12,[0.9,0.3,0.9,0.9],'IB: UBE2T','23KDa','r-ube2t');
R(333,772,118,50,'r-flag','#f2f2f2','#555',0.5);multiBand(333,772,118,4,[[1,11,0.95],[3,12,0.95],[2,40,0.95]],'r-flag-band');
T(331,800,'IB: Flag','r-flag-label',{fs:5.3,a:'end'});
[['-55KDa',783],['-40KDa',798],['-35KDa',817]].forEach(k=>T(452,k[1],k[0],'r-kda',{fs:5.3}));
blot(333,828,118,9,[0.85,0.9,0.85,0.85],'IB: GAPDH','36KDa','r-gapdh');

// ================= PANEL S (model) =================
panel('S',453,728);
el('ellipse',{cx:483,cy:743,rx:24,ry:13,fill:'#3b9af0',stroke:'#111','stroke-width':0.7},'kras-node');
T(483,745,'<tspan font-weight="bold">KRAS</tspan><tspan font-size="3.8" dy="-2">G12D</tspan>','kras-node-label',{fs:6,a:'middle',html:true});
L(508,743,533,743,'arrow-kras-rb','#222',1);arrowHead(536,743,'r','arrow-head');
el('circle',{cx:543,cy:744,r:8,fill:'#9a6ab8'},'rb-node');T(543,746,'Rb','rb-label',{fs:6,a:'middle',fill:'#fff'});
L(543,736,543,727,'rb-p-link','#444',0.6);el('circle',{cx:543,cy:723,r:3.5,fill:'#f5c84a',stroke:'#c99a20','stroke-width':0.5},'phospho-node');T(543,725,'P','phospho-label',{fs:4,a:'middle',fill:'#fff'});
P('M560,738 Q566,748 560,758 T560,778 T560,798 T560,818','dna-helix-red','none','#d83030',1);
P('M564,738 Q558,748 564,758 T564,778 T564,798 T564,818','dna-helix-blue','none','#2a6ad0',1);
P('M530,768 Q534,756 548,760 Q562,758 562,772 Q566,786 552,787 Q544,794 538,786 Q526,780 530,768Z','e2f1-node','#c88a18');
T(547,776,'E2F1','e2f1-node-label',{fs:6.5,a:'middle',fill:'#fff'});
el('circle',{cx:543,cy:808,r:10,fill:'#6a8ad0'},'p53-node');T(543,810,'p53','p53-node-label',{fs:6.3,a:'middle',fill:'#fff'});
P('M532,784 Q512,790 514,804','dissociation-arrow','none','#222',0.8);arrowHead(514,808,'d','arrow-head');
T(508,825,'dissociation','dissociation-label',{fs:6.3,a:'middle'});
L(566,775,580,775,'arrow-to-transcription','#222',1);arrowHead(583,775,'r','arrow-head');
R(583,745,24,70,'ube2t-transcription-box','#dde8fb','#222',0.8);
T(599,785,'UBE2T','transcription-label-1',{fs:6,a:'middle',fw:'bold',fill:'#2d3ea8',tr:'rotate(-90 599 785) translate(0 -4)'});
T(599,785,'transcription','transcription-label-2',{fs:6,a:'middle',fw:'bold',fill:'#2d3ea8',tr:'rotate(-90 599 785) translate(0 4)'});
L(591,754,600,754,'transcription-arrow','#222',0.8);arrowHead(589,754,'l','arrow-head');
L(608,775,622,775,'arrow-to-complex','#222',1);arrowHead(625,775,'r','arrow-head');
el('circle',{cx:655,cy:773,r:23,fill:'#0d5f84'},'ube2t-node');T(660,767,'UBE2T','ube2t-node-label',{fs:6.5,a:'middle',fill:'#fff'});
el('ellipse',{cx:647,cy:787,rx:20,ry:9,fill:'#c8a4d8'},'ring1-node');T(646,789,'RING1','ring1-node-label',{fs:6.5,a:'middle',fill:'#fff'});
el('circle',{cx:654,cy:803,r:11,fill:'#6a8ad0'},'complex-p53-node');T(654,806,'p53','complex-p53-label',{fs:6.3,a:'middle',fill:'#fff'});
el('circle',{cx:641,cy:813,r:3.5,fill:'#e8521a'},'ubiquitin-node');T(643,815,'Ub','ubiquitin-label',{fs:3.5,fill:'#222'});
L(679,775,694,775,'arrow-to-degradation','#222',1);arrowHead(697,775,'r','arrow-head');
R(697,745,23,70,'p53-degradation-box','#dde8fb','#222',0.8);
T(712,782,'p53','degradation-label-1',{fs:6,a:'middle',fw:'bold',fill:'#2d3ea8',tr:'rotate(-90 712 782) translate(0 -4)'});
T(712,782,'degradation','degradation-label-2',{fs:6,a:'middle',fw:'bold',fill:'#2d3ea8',tr:'rotate(-90 712 782) translate(0 4)'});
L(704,754,713,754,'degradation-arrow','#222',0.8);arrowHead(702,754,'l','arrow-head');
P('M708,745 L708,728 L553,728','feedback-top','none','#2a8ad8',1);arrowHead(550,728,'l','arrow-head','#2a8ad8');
el('circle',{cx:655,cy:728,r:8,fill:'#5a78b8'},'p21-node');T(655,730,'p21','p21-node-label',{fs:6.3,a:'middle',fill:'#fff'});
L(665,722,665,736,'p21-down-arrow','#2a8ad8',0.8);arrowHead(665,739,'d','arrow-head','#2a8ad8');
P('M708,815 L708,837 L545,837 L545,822','feedback-bottom','none','#2a8ad8',1);arrowHead(545,819,'u','arrow-head','#2a8ad8');
</script>
</body></html>
